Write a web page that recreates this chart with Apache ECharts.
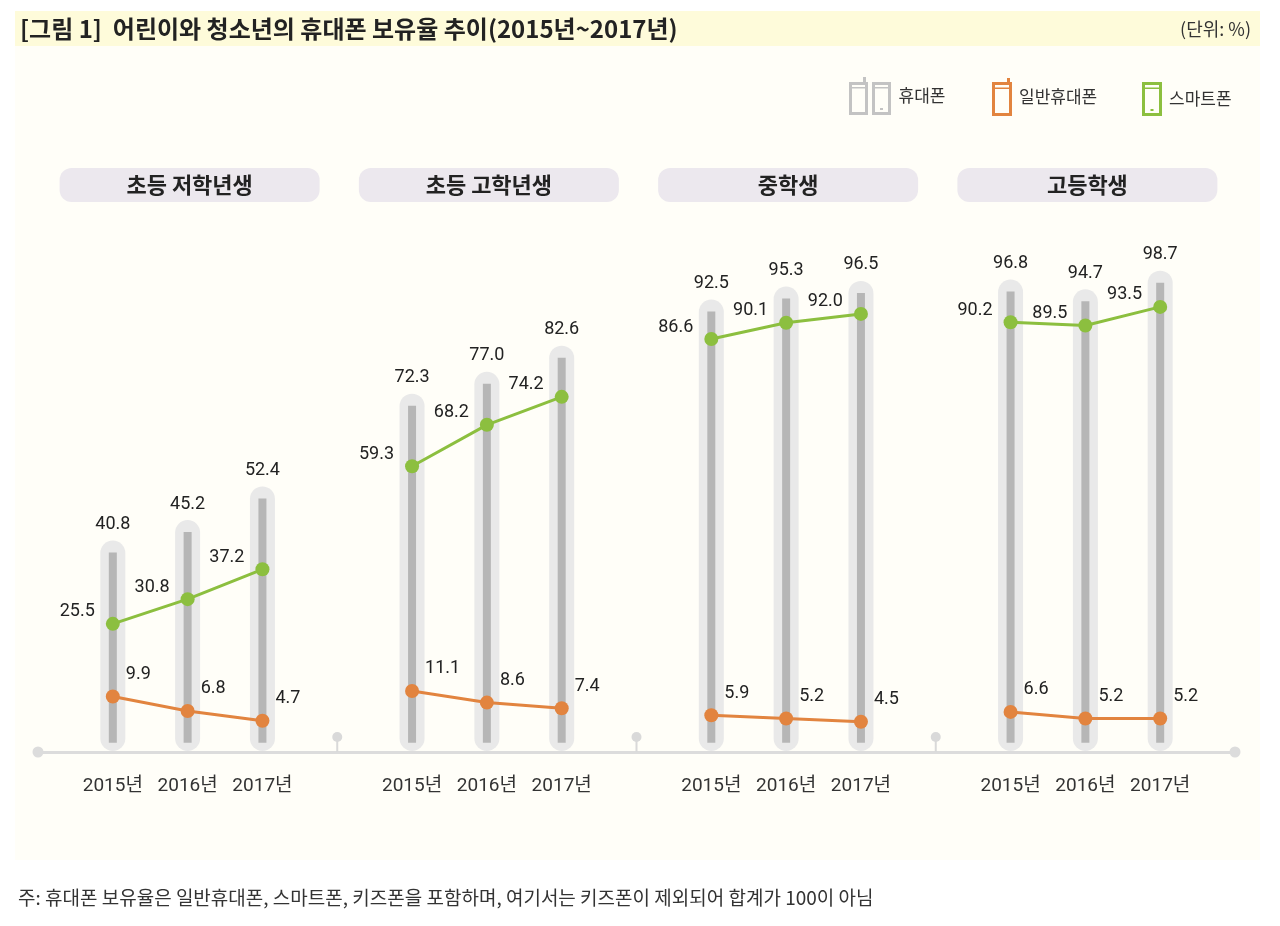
<!DOCTYPE html>
<html>
<head>
<meta charset="utf-8">
<title>어린이와 청소년의 휴대폰 보유율 추이</title>
<script src="https://cdn.jsdelivr.net/npm/echarts@6.0.0/dist/echarts.min.js"></script>
<style>
html, body { margin: 0; padding: 0; background: #ffffff; }
#chart { width: 1280px; height: 926px; }
</style>
</head>
<body>
<div id="chart"></div>
<script>
// 자료: 학교급별 휴대폰 보유율 (%)
var groups = ['초등 저학년생', '초등 고학년생', '중학생', '고등학생'];
var years = ['2015년', '2016년', '2017년'];
var seriesNames = ['휴대폰', '일반휴대폰', '스마트폰'];
var phoneRate = [40.8, 45.2, 52.4, 72.3, 77.0, 82.6, 92.5, 95.3, 96.5, 96.8, 94.7, 98.7];
var featureRate = [9.9, 6.8, 4.7, 11.1, 8.6, 7.4, 5.9, 5.2, 4.5, 6.6, 5.2, 5.2];
var smartRate = [25.5, 30.8, 37.2, 59.3, 68.2, 74.2, 86.6, 90.1, 92.0, 90.2, 89.5, 93.5];

var NUM_FONT = "Roboto, 'Noto Sans CJK KR', sans-serif";
var KR_FONT = "'Noto Sans CJK KR', 'Noto Sans', sans-serif";

// 학교급마다 4칸: 연도 3칸 + 빈칸 1칸
function slotOf(k) {
    return Math.floor(k / 3) * 4 + k % 3;
}

function slotData(values, withBreaks) {
    var out = [];
    for (var k = 0; k < values.length; k++) {
        out.push([slotOf(k), values[k]]);
        if (withBreaks && k % 3 === 2 && k < values.length - 1) {
            out.push([slotOf(k) + 1, '-']);
        }
    }
    return out;
}

var sepSlots = [];
for (var g = 0; g < groups.length - 1; g++) sepSlots.push(g * 4 + 3);

// 범례 아이콘 (휴대폰 모양)
var iconFeature = 'path://M15 0H18V4H15Z M0 4H20V7H0Z M0 35H20V38H0Z M0 4H3V38H0Z M17 4H20V38H17Z M3 9.5H17V11H3Z';
var iconSmart = 'path://M0 0H20V3H0Z M0 31H20V34H0Z M0 0H3V34H0Z M17 0H20V34H17Z M3 5.5H17V7H3Z M8.5 27H11.5V29H8.5Z';
var iconBoth = 'path://M14 0H17V5H14Z M0 5H19V8H0Z M0 35H19V38H0Z M0 5H3V38H0Z M16 5H19V38H16Z M3 10H16V11.5H3Z' +
    ' M23 5H42V8H23Z M23 35H42V38H23Z M23 5H26V38H23Z M39 5H42V38H39Z M26 10H39V11.5H26Z M31 31H34V33H31Z';

function legendItem(name, left, top, w, h, icon) {
    return {
        data: [name],
        left: left,
        top: top,
        padding: 0,
        itemWidth: w,
        itemHeight: h,
        itemGap: 0,
        icon: icon,
        selectedMode: false,
        textStyle: { fontSize: 17, color: '#333', fontFamily: KR_FONT, padding: [0, 0, 0, 2] }
    };
}

var myChart = echarts.init(document.getElementById('chart'));

option = {
    animation: false,
    backgroundColor: '#ffffff',
    legend: [
        legendItem(seriesNames[0], 849, 77, 43, 38, iconBoth),
        legendItem(seriesNames[1], 992, 78, 20, 38, iconFeature),
        legendItem(seriesNames[2], 1142, 82, 20, 34, iconSmart)
    ],
    grid: { left: 38, right: 45, top: 230, bottom: 174 },
    xAxis: {
        type: 'value',
        min: -1,
        max: 15,
        interval: 1,
        axisLine: {
            show: true,
            onZero: false,
            symbol: ['circle', 'circle'],
            symbolSize: [11, 11],
            lineStyle: { color: '#dcdcdc', width: 3 }
        },
        axisTick: { show: false },
        splitLine: { show: false },
        axisLabel: {
            margin: 25,
            fontSize: 19,
            color: '#333',
            fontFamily: NUM_FONT,
            formatter: function (v) {
                if (v < 0 || v > 14 || v % 4 === 3) return '';
                return years[v % 4];
            }
        }
    },
    yAxis: {
        type: 'value',
        min: -2,
        max: 110,
        show: false
    },
    series: [
        {
            name: seriesNames[0],
            type: 'custom',
            itemStyle: { color: '#c3c3c3' },
            encode: { x: 0, y: 1 },
            data: slotData(phoneRate, false),
            renderItem: function (params, api) {
                var v = api.value(1);
                var top = api.coord([api.value(0), v]);
                var zero = api.coord([api.value(0), 0]);
                var floor = api.coord([api.value(0), -2]);
                var cx = top[0];
                return {
                    type: 'group',
                    children: [
                        {
                            type: 'rect',
                            shape: { x: cx - 12.5, y: top[1] - 12, width: 25, height: floor[1] - 1 - (top[1] - 12), r: 12.5 },
                            style: { fill: '#e9e9e9' }
                        },
                        {
                            type: 'rect',
                            shape: { x: cx - 4, y: top[1], width: 8, height: zero[1] - top[1] },
                            style: { fill: '#b6b6b6' }
                        },
                        {
                            type: 'text',
                            x: cx,
                            y: top[1] - 28,
                            style: {
                                text: v.toFixed(1),
                                fill: '#222',
                                fontSize: 18,
                                fontFamily: NUM_FONT,
                                align: 'center',
                                verticalAlign: 'middle'
                            }
                        }
                    ]
                };
            }
        },
        {
            name: 'sep',
            type: 'custom',
            silent: true,
            encode: { x: 0 },
            data: sepSlots.map(function (s) { return [s]; }),
            renderItem: function (params, api) {
                var p = api.coord([api.value(0), -2]);
                return {
                    type: 'group',
                    children: [
                        { type: 'rect', shape: { x: p[0] - 1, y: p[1] - 15, width: 2, height: 15 }, style: { fill: '#d9d9d9' } },
                        { type: 'circle', shape: { cx: p[0], cy: p[1] - 15, r: 5 }, style: { fill: '#d9d9d9' } }
                    ]
                };
            }
        },
        {
            name: seriesNames[2],
            type: 'line',
            data: slotData(smartRate, true),
            connectNulls: false,
            symbol: 'circle',
            symbolSize: 14,
            itemStyle: { color: '#8cbf3f' },
            lineStyle: { color: '#8cbf3f', width: 3 },
            label: {
                show: true,
                position: 'left',
                distance: 11,
                offset: [0, -12],
                fontSize: 18,
                color: '#222',
                fontFamily: NUM_FONT,
                formatter: function (p) { return p.value[1].toFixed(1); }
            }
        },
        {
            name: seriesNames[1],
            type: 'line',
            data: slotData(featureRate, true),
            connectNulls: false,
            symbol: 'circle',
            symbolSize: 14,
            itemStyle: { color: '#e2843f' },
            lineStyle: { color: '#e2843f', width: 3 },
            label: {
                show: true,
                position: 'right',
                distance: 6,
                offset: [0, -22],
                fontSize: 18,
                color: '#222',
                fontFamily: NUM_FONT,
                formatter: function (p) { return p.value[1].toFixed(1); }
            }
        }
    ]
};

myChart.setOption(option);

// 배경, 제목, 학교급 머리표
var elements = [
    { type: 'rect', z: -20, shape: { x: 15, y: 46, width: 1245, height: 814 }, style: { fill: '#fffef8' } },
    { type: 'rect', z: -20, shape: { x: 15, y: 11, width: 1245, height: 35 }, style: { fill: '#fefbda' } },
    {
        type: 'text', x: 20, y: 29,
        style: {
            text: '[그림 1]  어린이와 청소년의 휴대폰 보유율 추이(2015년~2017년)',
            fill: '#222', fontSize: 24, fontWeight: 'bold', fontFamily: KR_FONT, verticalAlign: 'middle'
        }
    },
    {
        type: 'text', x: 1251, y: 29,
        style: { text: '(단위: %)', fill: '#333', fontSize: 18, fontFamily: KR_FONT, align: 'right', verticalAlign: 'middle' }
    },
    {
        type: 'text', x: 18, y: 898,
        style: {
            text: '주: 휴대폰 보유율은 일반휴대폰, 스마트폰, 키즈폰을 포함하며, 여기서는 키즈폰이 제외되어 합계가 100이 아님',
            fill: '#333', fontSize: 19, fontFamily: KR_FONT, verticalAlign: 'middle'
        }
    }
];
for (var i = 0; i < groups.length; i++) {
    var cx = myChart.convertToPixel({ xAxisIndex: 0 }, i * 4 + 1) + 2;
    elements.push({
        type: 'rect', z: -10,
        shape: { x: cx - 130, y: 168, width: 260, height: 34, r: 12 },
        style: { fill: '#ece8ee' }
    });
    elements.push({
        type: 'text', x: cx, y: 185,
        style: { text: groups[i], fill: '#222', fontSize: 22, fontWeight: 'bold', fontFamily: KR_FONT, align: 'center', verticalAlign: 'middle' }
    });
}
myChart.setOption({ graphic: { elements: elements } });
</script>
</body>
</html>
